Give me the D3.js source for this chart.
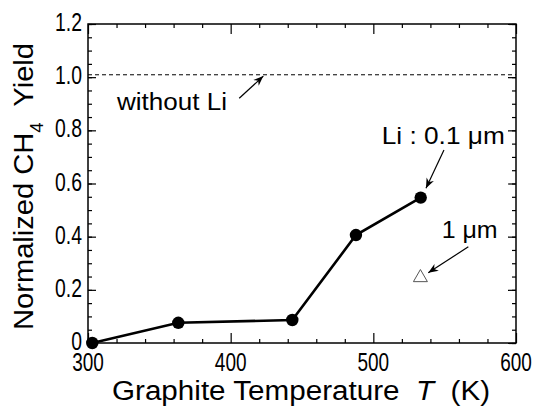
<!DOCTYPE html>
<html><head><meta charset="utf-8">
<script src="https://cdn.jsdelivr.net/npm/d3@7"></script>
<style>html,body{margin:0;padding:0;background:#fff;}svg{display:block;}</style>
</head><body>
<script>
// Data
const temps = [303, 363.3, 443.2, 487.8, 533.2];
const yields = [0, 0.076, 0.0865, 0.406, 0.547];
const thickTemp = [533];
const thickYield = [0.246];
const refLevel = [1.009];
const xTickVals = [300, 400, 500, 600];
const yTickVals = [0, 0.2, 0.4, 0.6, 0.8, 1.0, 1.2];
const yTickLabels = ["0", "0.2", "0.4", "0.6", "0.8", "1.0", "1.2"];
const annotations = [
  {text: "without Li", tx: 320.3, ty: 0.8765, len: 110, size: 23, from: [406.0, 0.9205], to: [422.9, 1.004]},
  {text: "Li : 0.1 \u03bcm", tx: 505.9, ty: 0.749, len: 123, size: 24, from: [549.5, 0.726], to: [536.9, 0.582]},
  {text: "1 \u03bcm", tx: 547.9, ty: 0.395, len: 56, size: 24, from: [566.6, 0.362], to: [538.5, 0.264]}
];

const W = 536, H = 408;
const L = 88, R = 516, T = 24, B = 343;
const svg = d3.select("body").append("svg").attr("width", W).attr("height", H);
const x = d3.scaleLinear().domain([300, 600]).range([L, R]);
const y = d3.scaleLinear().domain([0, 1.2]).range([B, T]);

const FONT = "'Liberation Sans', Arial, Helvetica, sans-serif";

svg.append("defs").append("marker").attr("id", "ah")
  .attr("viewBox", "0 0 10 10").attr("refX", 10).attr("refY", 5)
  .attr("markerWidth", 10).attr("markerHeight", 10).attr("markerUnits", "userSpaceOnUse")
  .attr("orient", "auto")
  .append("path").attr("d", "M0,1 L10,5 L0,9 L3,5 Z").attr("fill", "#000");

// ticks (inward) via axes
const xMinor = d3.range(300, 601, 20);
const yMinor = d3.range(0, 1.2001, 0.05);
function addTicks(axisGen, tr) {
  const g = svg.append("g").attr("transform", tr).call(axisGen);
  g.select(".domain").remove();
  g.selectAll("text").remove();
  g.selectAll("line").attr("stroke", "#000").attr("stroke-width", 1.2);
  return g;
}
addTicks(d3.axisTop(x).tickValues(xMinor.filter(v => v % 100 !== 0)).tickSize(4), `translate(0,${B})`);
addTicks(d3.axisTop(x).tickValues(xTickVals).tickSize(10), `translate(0,${B})`);
addTicks(d3.axisBottom(x).tickValues(xMinor.filter(v => v % 100 !== 0)).tickSize(4), `translate(0,${T})`);
addTicks(d3.axisBottom(x).tickValues(xTickVals).tickSize(10), `translate(0,${T})`);
addTicks(d3.axisRight(y).tickValues(yMinor).tickSize(4), `translate(${L},0)`);
addTicks(d3.axisRight(y).tickValues(yTickVals).tickSize(8), `translate(${L},0)`);
addTicks(d3.axisLeft(y).tickValues(yMinor).tickSize(4), `translate(${R},0)`);
addTicks(d3.axisLeft(y).tickValues(yTickVals).tickSize(8), `translate(${R},0)`);

// frame
svg.append("rect").attr("x", L).attr("y", T).attr("width", R - L).attr("height", B - T)
  .attr("fill", "none").attr("stroke", "#000").attr("stroke-width", 1.5);

// tick labels (condensed)
svg.append("g").selectAll("text").data(xTickVals).join("text")
  .attr("transform", d => `translate(${x(d)},371) scale(0.76,1)`)
  .attr("text-anchor", "middle")
  .attr("font-family", FONT).attr("font-size", 25).text(d => d);
svg.append("g").selectAll("text").data(yTickVals).join("text")
  .attr("transform", d => `translate(82,${y(d) + 7}) scale(0.76,1)`)
  .attr("text-anchor", "end")
  .attr("font-family", FONT).attr("font-size", 25.5).text((d, i) => yTickLabels[i]);

// axis titles
const xt = svg.append("text").attr("x", 112).attr("y", 400)
  .attr("font-family", FONT).attr("font-size", 27).attr("xml:space", "preserve")
  .attr("textLength", 378).attr("lengthAdjust", "spacingAndGlyphs");
xt.append("tspan").text("Graphite Temperature  ");
xt.append("tspan").attr("font-style", "italic").text("T");
xt.append("tspan").text("  (K)");

const yt = svg.append("text").attr("transform", `translate(33,330) rotate(-90)`)
  .attr("font-family", FONT).attr("font-size", 28).attr("xml:space", "preserve")
  .attr("textLength", 287).attr("lengthAdjust", "spacingAndGlyphs");
yt.append("tspan").text("Normalized CH");
yt.append("tspan").attr("font-size", 18).attr("dy", 10).text("4");
yt.append("tspan").attr("dy", -10).text("  Yield");

// reference dashed line
svg.append("g").selectAll("line").data(refLevel).join("line")
  .attr("x1", x(300)).attr("x2", x(600)).attr("y1", d => y(d)).attr("y2", d => y(d))
  .attr("stroke", "#000").attr("stroke-width", 1).attr("stroke-dasharray", "4,3");

// data line
const pts = temps.map((t, i) => [t, yields[i]]);
svg.append("path").datum(pts)
  .attr("d", d3.line().x(d => x(d[0])).y(d => y(d[1])))
  .attr("fill", "none").attr("stroke", "#000").attr("stroke-width", 2.6);
svg.append("g").selectAll("circle").data(pts).join("circle")
  .attr("cx", d => x(d[0])).attr("cy", d => y(d[1])).attr("r", 6.2).attr("fill", "#000");

// triangle
svg.append("g").selectAll("path").data(thickTemp.map((t, i) => [t, thickYield[i]])).join("path")
  .attr("transform", d => `translate(${x(d[0])},${y(d[1])})`)
  .attr("d", d3.symbol(d3.symbolTriangle, 85))
  .attr("fill", "none").attr("stroke", "#555").attr("stroke-width", 1);

// annotations
const ag = svg.append("g");
ag.selectAll("text").data(annotations).join("text")
  .attr("x", d => x(d.tx)).attr("y", d => y(d.ty))
  .attr("font-family", FONT).attr("font-size", d => d.size)
  .attr("textLength", d => d.len).attr("lengthAdjust", "spacingAndGlyphs")
  .text(d => d.text);
ag.selectAll("line").data(annotations).join("line")
  .attr("x1", d => x(d.from[0])).attr("y1", d => y(d.from[1]))
  .attr("x2", d => x(d.to[0])).attr("y2", d => y(d.to[1]))
  .attr("stroke", "#000").attr("stroke-width", 1.2).attr("marker-end", "url(#ah)");
</script>
</body></html>
